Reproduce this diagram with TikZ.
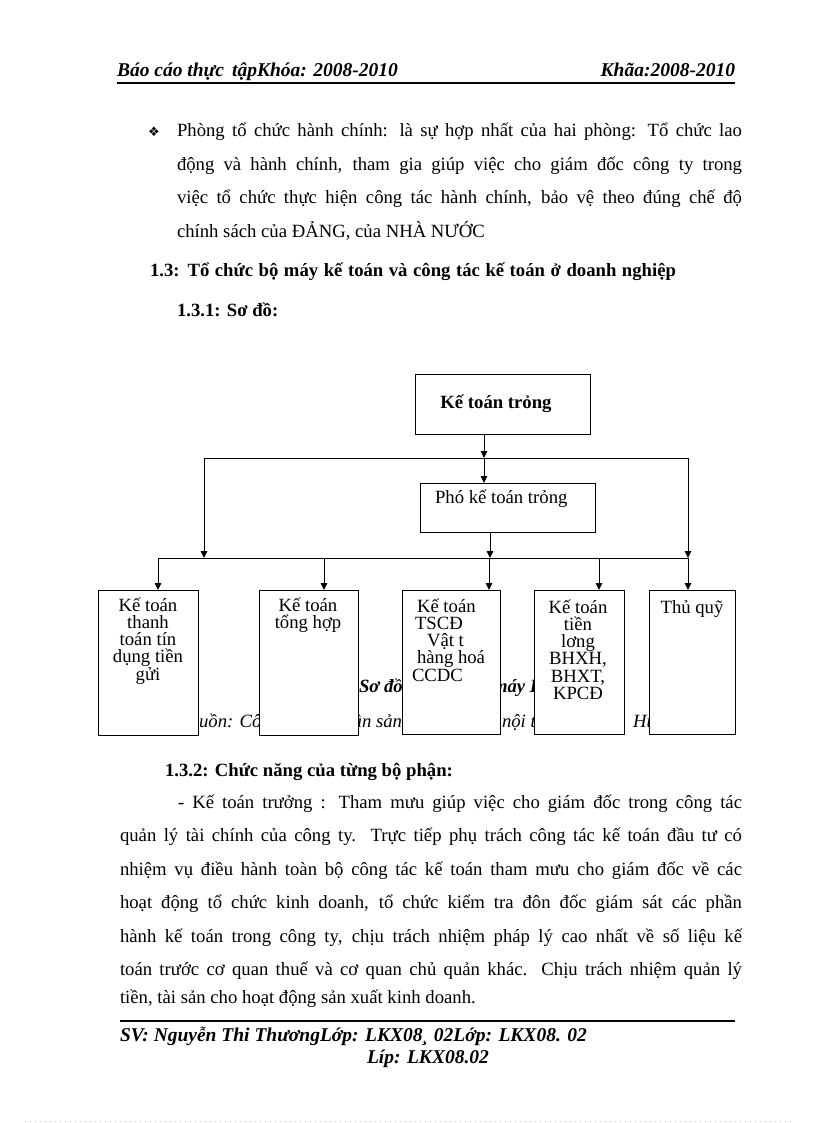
\documentclass[tikz,border=0pt]{standalone}
\usepackage{fontspec}
\setmainfont{Liberation Serif}
\newfontfamily\symfont{DejaVu Sans}
\usetikzlibrary{arrows.meta}
\begin{document}
\begin{tikzpicture}[x=1pt,y=-1pt,
  every node/.style={inner sep=0pt, outer sep=0pt},
  body/.style={font=\fontsize{18.7}{22}\selectfont, anchor=base west},
  bodybf/.style={font=\fontsize{18.7}{22}\selectfont\bfseries, anchor=base west},
  hdr/.style={font=\fontsize{19.5}{22}\selectfont\bfseries\itshape, anchor=base west},
  capbi/.style={font=\fontsize{18.7}{22}\selectfont\bfseries\itshape, anchor=base west},
  capit/.style={font=\fontsize{18.7}{22}\selectfont\itshape, anchor=base west},
  orgbox/.style={draw, line width=0.9pt, fill=white},
  boxtext/.style={font=\fontsize{18.7}{17.3}\selectfont, align=center, anchor=north},
  link/.style={line width=0.9pt},
  arr/.style={line width=0.9pt, -{Triangle[length=7pt,width=6.5pt]}},
  rulethick/.style={line width=2pt},
]
\useasboundingbox (0,0) rectangle (816,1123);

% header
\node[hdr] (h1) at (117,77) {Báo cáo thực\, tậpKhóa: 2008-2010};
\node[hdr, anchor=base east] (h2) at (735,77) {Khãa:2008-2010};
\draw[rulethick] (117,83) -- (735,83);

% bullet paragraph
\node[font=\symfont\fontsize{13}{13}\selectfont, anchor=base west] (bul) at (148,137) {❖};
\node[body] (p1) at (177,137) {\makebox[565pt][s]{Phòng tổ chức hành chính: là sự hợp nhất của hai phòng: Tổ chức lao}};
\node[body] (p2) at (177,170.5) {\makebox[565pt][s]{động và hành chính, tham gia giúp việc cho giám đốc công ty trong}};
\node[body] (p3) at (177,204) {\makebox[565pt][s]{việc tổ chức thực hiện công tác hành chính, bảo vệ theo đúng chế độ}};
\node[body] (p4) at (177,237.5) {chính sách của ĐẢNG, của NHÀ NƯỚC};

\node[bodybf] (s13) at (150,276) {\makebox[526pt][s]{1.3: Tổ chức bộ máy kế toán và công tác kế toán ở doanh nghiệp}};
\node[bodybf] (s131) at (177,316) {1.3.1: Sơ đồ:};

% caption (mostly covered by boxes)
\node[capbi] (cap1) at (359,692) {Sơ đồ};
\node[capbi] (cap2) at (493,692) {máy K};
\node[capit] (src1) at (171,727) {(Nguồn: Công};
\node[capit] (src2) at (334,727) {phần sản};
\node[capit] (src3) at (502,727) {nội thất};
\node[capit] (src4) at (633,727) {Hưng};

% diagram boxes
\node[orgbox, minimum width=175pt, minimum height=60pt] (kt) at (502.5,404) {};
\node[font=\fontsize{18.7}{22}\selectfont\bfseries, anchor=base] (ktl) at (496,408) {Kế toán trỏng};
\node[orgbox, minimum width=175pt, minimum height=49pt] (pho) at (507.5,507.5) {};
\node[body] (phol) at (435,503) {Phó kế toán trỏng};

\node[orgbox, minimum width=100pt, minimum height=145pt] (b1) at (148,662.5) {};
\node[orgbox, minimum width=99pt, minimum height=145pt] (b2) at (308.5,662.5) {};
\node[orgbox, minimum width=98pt, minimum height=144pt] (b3) at (451,662) {};
\node[orgbox, minimum width=90pt, minimum height=144pt] (b4) at (579,662) {};
\node[orgbox, minimum width=86pt, minimum height=144pt] (b5) at (692,662) {};

\node[boxtext] (t1) at (148,593) {\rule{0pt}{18pt}Kế toán\\thanh\\toán tín\\dụng tiền\\gửi};
\node[boxtext] (t2) at (308,593) {\rule{0pt}{18pt}Kế toán\\tổng hợp};
\node[boxtext, align=left, anchor=north west] (t3) at (412,594) {\rule{0pt}{18pt}\hspace*{5pt}Kế toán\\\hspace*{3pt}TSCĐ\\\hspace*{15pt}Vật t\\\hspace*{5pt}hàng hoá\\CCDC};
\node[boxtext] (t4) at (578,595) {\rule{0pt}{18pt}Kế toán\\tiền\\lơng\\BHXH,\\BHXT,\\KPCĐ};
\node[boxtext] (t5) at (692,595) {\rule{0pt}{18pt}Thủ quỹ};

% junctions
\coordinate (j1) at (484,458);
\coordinate (hl) at (204,458);
\coordinate (hr) at (688,458);
\coordinate (j2) at (490,558);
\coordinate (ll) at (158,558);
\coordinate (lr) at (688,558);
\coordinate (l2) at (324,558);
\coordinate (l3) at (489,558);
\coordinate (l4) at (599,558);

\draw[arr] (j1 |- kt.south) -- (j1);
\draw[arr] (j1) -- (j1 |- pho.north);
\draw[link] (hl) -- (hr);
\draw[arr] (hl) -- (hl |- ll);
\draw[arr] (hr) -- (lr);
\draw[arr] (j2 |- pho.south) -- (j2);
\draw[link] (ll) -- (lr);
\draw[arr] (ll) -- (ll |- b1.north);
\draw[arr] (l2) -- (l2 |- b2.north);
\draw[arr] (l3) -- (l3 |- b3.north);
\draw[arr] (l4) -- (l4 |- b4.north);
\draw[arr] (lr) -- (lr |- b5.north);

% section 1.3.2
\node[bodybf] (s132) at (165,776) {1.3.2: Chức năng của từng bộ phận:};
\node[body] (q1) at (178,808) {\makebox[564pt][s]{- Kế toán trưởng : Tham mưu giúp việc cho giám đốc trong công tác}};
\node[body] (q2) at (120,841.5) {\makebox[622pt][s]{quản lý tài chính của công ty. Trực tiếp phụ trách công tác kế toán đầu tư có}};
\node[body] (q3) at (120,875) {\makebox[622pt][s]{nhiệm vụ điều hành toàn bộ công tác kế toán tham mưu cho giám đốc về các}};
\node[body] (q4) at (120,908.5) {\makebox[622pt][s]{hoạt động tổ chức kinh doanh, tổ chức kiểm tra đôn đốc giám sát các phần}};
\node[body] (q5) at (120,942) {\makebox[622pt][s]{hành kế toán trong công ty, chịu trách nhiệm pháp lý cao nhất về số liệu kế}};
\node[body] (q6) at (120,975.5) {\makebox[622pt][s]{toán trước cơ quan thuế và cơ quan chủ quản khác. Chịu trách nhiệm quản lý}};
\node[body] (q7) at (120,1003) {tiền, tài sản cho hoạt động sản xuất kinh doanh.};

% footer
\draw[rulethick] (120,1021) -- (735,1021);
\node[hdr] (f1) at (120,1041) {SV: Nguyễn Thi ThươngLớp: LKX08¸ 02Lớp: LKX08. 02};
\node[hdr] (f2) at (367,1063) {Líp: LKX08.02};
\draw[gray!40, line width=0.5pt, dash pattern=on 0.8pt off 4.2pt] (25,1121.5) -- (794,1121.5);
\end{tikzpicture}
\end{document}
